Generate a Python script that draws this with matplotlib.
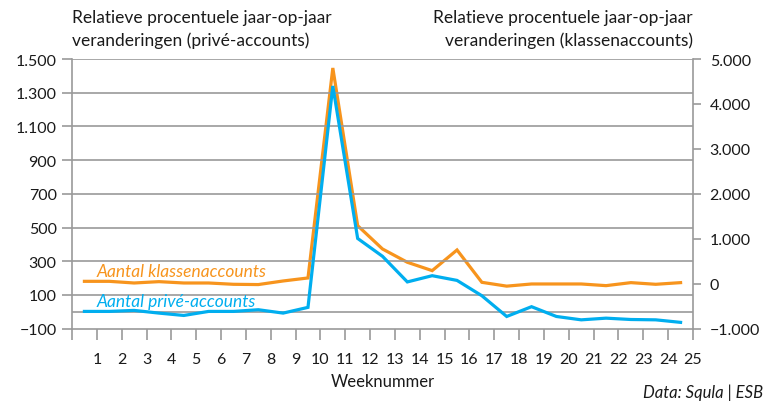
import matplotlib
matplotlib.use("Agg")
import matplotlib.pyplot as plt
import numpy as np

plt.rcParams['font.family'] = ['Lato', 'DejaVu Sans']

weeks = list(range(1, 26))
prive = [2, 2, 8, -8, -22, 2, 2, 12, -8, 26, 1340, 435, 329, 177, 214, 186, 95, -28,
         30, -28, -48, -38, -46, -48, -63]
klassen = [52, 52, 15, 45, 15, 15, -14, -20, 60, 127, 4800, 1291, 772, 476, 290, 750,
           30, -55, -7, -7, -7, -44, 23, -14, 23]
left_ticks = [1500, 1300, 1100, 900, 700, 500, 300, 100, -100]
right_ticks = [5000, 4000, 3000, 2000, 1000, 0, -1000]

orange = '#F7941D'
blue = '#00AEEF'
grid_c = '#9a9a9a'
text_c = '#1a1a1a'

def fmt(v):
    s = f"{abs(v):,}".replace(",", ".")
    return ("\u2212" + s) if v < 0 else s

fig = plt.figure(figsize=(7.79, 4.14), dpi=100)
ax = fig.add_axes([72/779, 1-329.6/414, (693-72)/779, (329.6-60)/414])
ax2 = ax.twinx()

x = np.array(weeks) - 0.5
ax.set_xlim(0, 25)
ax.set_ylim(-100, 1500)
ax2.set_ylim(-1000, 5000)

for g in left_ticks[:-1] + [0]:
    ax.axhline(g, color=grid_c, lw=1.2, zorder=1)

ax2.plot(x, klassen, color=orange, lw=2.3, zorder=3, solid_joinstyle='miter')
ax.plot(x, prive, color=blue, lw=2.3, zorder=4, solid_joinstyle='miter')
ax.set_zorder(ax2.get_zorder() + 1)
ax.patch.set_visible(False)

for a in (ax, ax2):
    for s in a.spines.values():
        s.set_visible(False)
ax.spines['left'].set_visible(True)
ax.spines['left'].set_color(grid_c)
ax.spines['left'].set_linewidth(1.2)
ax.spines['bottom'].set_visible(True)
ax.spines['bottom'].set_color(grid_c)
ax.spines['bottom'].set_linewidth(1.2)
ax2.spines['right'].set_visible(True)
ax2.spines['right'].set_color(grid_c)
ax2.spines['right'].set_linewidth(1.2)

ax.set_yticks(left_ticks)
ax.set_yticklabels([fmt(v) for v in left_ticks])
ax2.set_yticks(right_ticks)
ax2.set_yticklabels([fmt(v) for v in right_ticks])
ax.set_xticks(range(0, 26))
ax.set_xticklabels([""] + [str(w) for w in weeks])

ax.tick_params(axis='y', length=7, width=1.2, color=grid_c, labelsize=11.5,
               labelcolor=text_c, pad=4)
ax2.tick_params(axis='y', length=6, width=1.2, color=grid_c, labelsize=11.5,
                labelcolor=text_c, pad=6)
ax.tick_params(axis='x', length=8, width=1.2, color=grid_c, labelsize=11.5,
               labelcolor=text_c, pad=9)

ax.set_xlabel("Weeknummer", fontsize=12, color=text_c, labelpad=5)

fig.text(72/779, 1-10/414, "Relatieve procentuele jaar-op-jaar\nveranderingen (privé-accounts)",
         ha='left', va='top', fontsize=12.5, color=text_c, linespacing=1.5)
fig.text(693/779, 1-10/414, "Relatieve procentuele jaar-op-jaar\nveranderingen (klassenaccounts)",
         ha='right', va='top', fontsize=12.5, color=text_c, linespacing=1.5,
         multialignment='right')

ax.text(1.0, 242, "Aantal klassenaccounts", color=orange, fontsize=12.5,
        style='italic', ha='left', va='center')
ax.text(1.0, 66, "Aantal privé-accounts", color=blue, fontsize=12.5,
        style='italic', ha='left', va='center')

fig.text(763/779, 1-393/414, "Data: Squla | ESB", ha='right', va='center',
         fontsize=12, style='italic', color=text_c)

fig.savefig("out.png", dpi=100, facecolor='white')
